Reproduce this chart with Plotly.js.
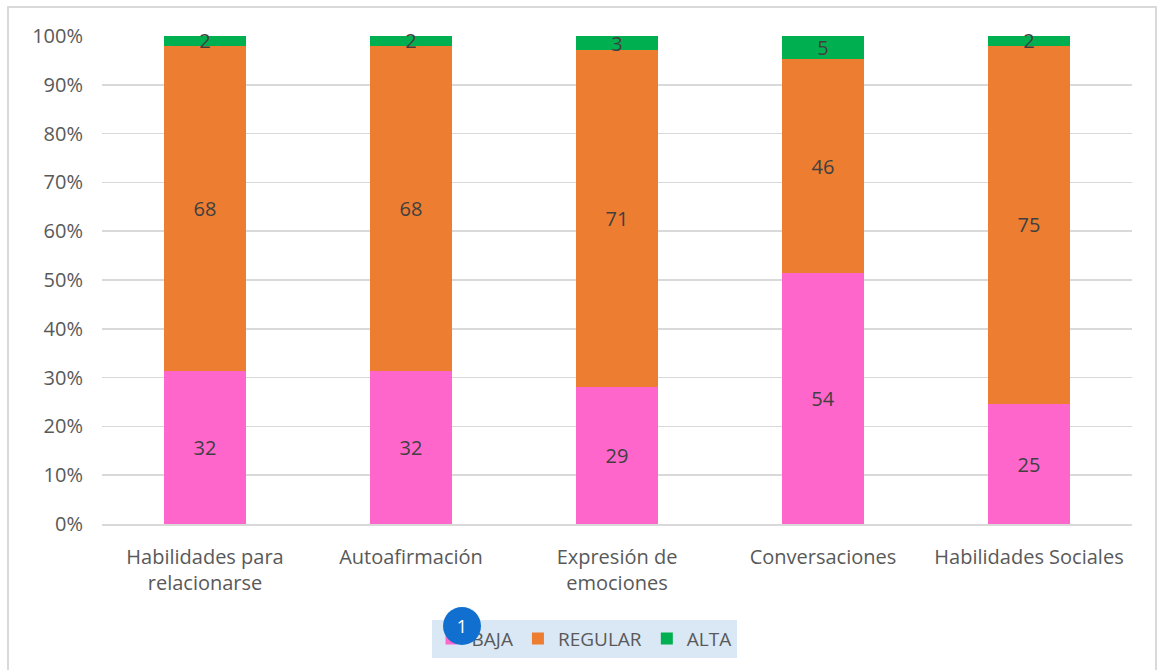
<!DOCTYPE html>
<html>
<head>
<meta charset="utf-8">
<script src="https://cdn.plot.ly/plotly-3.0.1.min.js"></script>
<style>
html,body{margin:0;padding:0;background:#fff;}
#wrap{position:relative;width:1160px;height:670px;overflow:hidden;}
#frame{position:absolute;left:7px;top:6px;width:1150px;height:700px;border:2px solid #d9d9d9;box-sizing:border-box;}
#chart{position:absolute;left:0;top:0;width:1160px;height:670px;}
#badge{position:absolute;left:443px;top:607px;width:38px;height:38px;border-radius:50%;background:#1170cf;color:#fff;font-family:"Open Sans",sans-serif;font-size:18px;line-height:38px;text-align:center;}
</style>
</head>
<body>
<div id="wrap">
<div id="frame"></div>
<div id="chart"></div>
<div id="badge">1</div>
</div>
<script>
const categories = ["Habilidades para<br>relacionarse", "Autoafirmación", "Expresión de<br>emociones", "Conversaciones", "Habilidades Sociales"];
const baja = [32, 32, 29, 54, 25];
const regular = [68, 68, 71, 46, 75];
const alta = [2, 2, 3, 5, 2];
const tickVals = [0, 10, 20, 30, 40, 50, 60, 70, 80, 90, 100];

const font = {family: '"Open Sans", "Segoe UI", sans-serif', size: 20, color: '#595959'};

function series(name, vals, color) {
  return {
    type: 'bar', name: name, x: categories, y: vals,
    text: vals.map(String), textposition: 'inside', insidetextanchor: 'middle',
    textangle: 0, constraintext: 'none', cliponaxis: false,
    textfont: {family: font.family, size: 20, color: '#404040'},
    marker: {color: color, line: {width: 0}},
    hoverinfo: 'x+y+name'
  };
}

const data = [
  series('BAJA', baja, '#ff66cc'),
  series('REGULAR', regular, '#ed7d31'),
  series('ALTA', alta, '#00b050')
];

const layout = {
  width: 1160, height: 670,
  margin: {l: 102, r: 28, t: 36, b: 143},
  paper_bgcolor: 'rgba(0,0,0,0)', plot_bgcolor: 'rgba(0,0,0,0)',
  barmode: 'stack', barnorm: 'percent', bargap: 0.6,
  font: font,
  showlegend: true,
  legend: {orientation: 'h', x: 0.468, xanchor: 'center', y: -0.235, yanchor: 'middle',
           bgcolor: '#dae8f5', font: {family: font.family, size: 19, color: '#595959'},
           traceorder: 'normal', itemclick: false, itemwidth: 30},
  xaxis: {type: 'category', showgrid: false, zeroline: false, showline: true, linecolor: '#d9d9d9', linewidth: 1.5,
          ticks: '', tickfont: font, ticklabelstandoff: 14},
  yaxis: {range: [0, 100], tickvals: tickVals, ticktext: tickVals.map(v => v + '%'),
          showgrid: true, gridcolor: '#d9d9d9', gridwidth: 1.5, zeroline: false, showline: false,
          ticks: '', tickfont: font, ticklabelstandoff: 18}
};

Plotly.newPlot('chart', data, layout, {displayModeBar: false, staticPlot: true});
</script>
</body>
</html>
